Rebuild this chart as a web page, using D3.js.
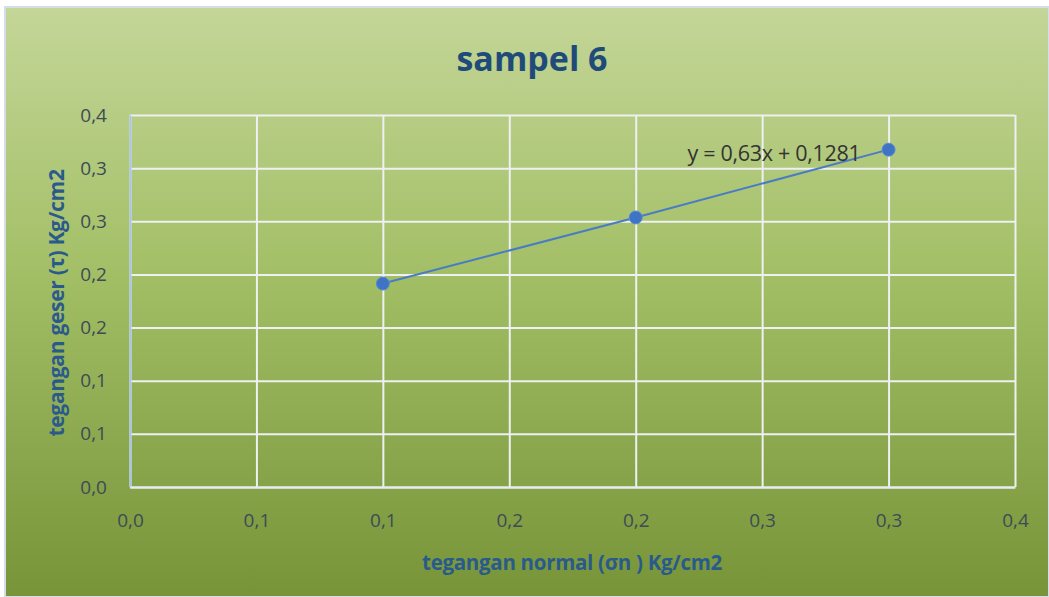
<!DOCTYPE html>
<html>
<head>
<meta charset="utf-8">
<script src="https://cdn.jsdelivr.net/npm/d3@7"></script>
<style>
  body { margin: 0; background: #fff; }
  svg text { font-family: "Open Sans", "Noto Sans", sans-serif; }
</style>
</head>
<body>
<div id="chart"></div>
<script>
// data
var xValues = [0.1, 0.2, 0.3];
var yValues = [0.1914, 0.2536, 0.3174];
var tickValues = [0, 0.05, 0.1, 0.15, 0.2, 0.25, 0.3, 0.35];
var trendLabel = "y = 0,63x + 0,1281";

var W = 1049, H = 597;
var margin = {top: 115, right: 34, bottom: 110, left: 130};
var width = 1015 - margin.left, height = 487 - margin.top;

var svg = d3.select("#chart").append("svg")
    .attr("width", W)
    .attr("height", H);

// background gradient
var defs = svg.append("defs");
var grad = defs.append("linearGradient").attr("id", "bg")
    .attr("x1", 0).attr("y1", 0).attr("x2", 0).attr("y2", 1);
grad.append("stop").attr("offset", "0%").attr("stop-color", "#c4d698");
grad.append("stop").attr("offset", "45%").attr("stop-color", "#a3bf66");
grad.append("stop").attr("offset", "100%").attr("stop-color", "#779439");

svg.append("rect")
    .attr("x", 5).attr("y", 7)
    .attr("width", W - 5).attr("height", H - 7)
    .attr("fill", "url(#bg)")
    .attr("stroke", "#d3deea")
    .attr("stroke-width", 2);

var g = svg.append("g")
    .attr("transform", "translate(" + margin.left + "," + margin.top + ")");

var x = d3.scaleLinear().domain([0, 0.35]).range([0, width]);
var y = d3.scaleLinear().domain([0, 0.35]).range([height, 0]);

var fmt = function(d) { return d3.format(".1f")(d + 1e-9).replace(".", ","); };

// gridlines
g.append("g")
    .attr("class", "grid")
    .call(d3.axisLeft(y).tickValues(tickValues).tickSize(-width).tickFormat(""))
    .call(function(s) {
        s.select(".domain").remove();
        s.selectAll("line").attr("stroke", "#eef0f4").attr("stroke-width", 2);
    });
g.append("g")
    .attr("class", "grid")
    .attr("transform", "translate(0," + height + ")")
    .call(d3.axisBottom(x).tickValues(tickValues).tickSize(-height).tickFormat(""))
    .call(function(s) {
        s.select(".domain").remove();
        s.selectAll("line").attr("stroke", "#eef0f4").attr("stroke-width", 2);
    });

// axes
var yAxis = g.append("g")
    .call(d3.axisLeft(y).tickValues(tickValues).tickSize(0).tickPadding(23).tickFormat(fmt));
yAxis.select(".domain").attr("stroke", "#a9c4e6").attr("stroke-width", 2);
yAxis.selectAll("text").attr("fill", "#3d4b55").attr("font-size", 19);

var xAxis = g.append("g")
    .attr("transform", "translate(0," + height + ")")
    .call(d3.axisBottom(x).tickValues(tickValues).tickSize(0).tickPadding(27).tickFormat(fmt));
xAxis.select(".domain").attr("stroke", "#e6ecf4").attr("stroke-width", 2);
xAxis.selectAll("text").attr("fill", "#3d4b55").attr("font-size", 19);

// series line + markers
var pts = xValues.map(function(d, i) { return [d, yValues[i]]; });
g.append("path")
    .datum(pts)
    .attr("fill", "none")
    .attr("stroke", "#4a7cc4")
    .attr("stroke-width", 2)
    .attr("d", d3.line().x(function(d) { return x(d[0]); }).y(function(d) { return y(d[1]); }));

g.selectAll("circle.pt")
    .data(pts)
    .enter().append("circle")
    .attr("class", "pt")
    .attr("cx", function(d) { return x(d[0]); })
    .attr("cy", function(d) { return y(d[1]); })
    .attr("r", 6.5)
    .attr("fill", "#3f74c4")
    .attr("stroke", "#5a8bd6")
    .attr("stroke-width", 1);

// trendline equation
g.append("text")
    .attr("x", x(0.3) - 28)
    .attr("y", y(0.3174) + 11)
    .attr("text-anchor", "end")
    .attr("fill", "#333")
    .attr("font-size", 21.5)
    .attr("letter-spacing", -0.3)
    .text(trendLabel);

// titles
svg.append("text")
    .attr("x", 532).attr("y", 71)
    .attr("text-anchor", "middle")
    .attr("fill", "#1f4b7a")
    .attr("font-size", 34)
    .attr("font-weight", "bold")
    .text("sampel 6");

svg.append("text")
    .attr("x", 572).attr("y", 570)
    .attr("text-anchor", "middle")
    .attr("fill", "#2a5a8c")
    .attr("font-size", 20.5)
    .attr("font-weight", "bold")
    .attr("letter-spacing", -0.3)
    .text("tegangan normal (σn ) Kg/cm2");

svg.append("text")
    .attr("transform", "translate(64,303) rotate(-90)")
    .attr("text-anchor", "middle")
    .attr("fill", "#2a5a8c")
    .attr("font-size", 21)
    .attr("font-weight", "bold")
    .attr("letter-spacing", -0.3)
    .text("tegangan geser (τ) Kg/cm2");
</script>
</body>
</html>
